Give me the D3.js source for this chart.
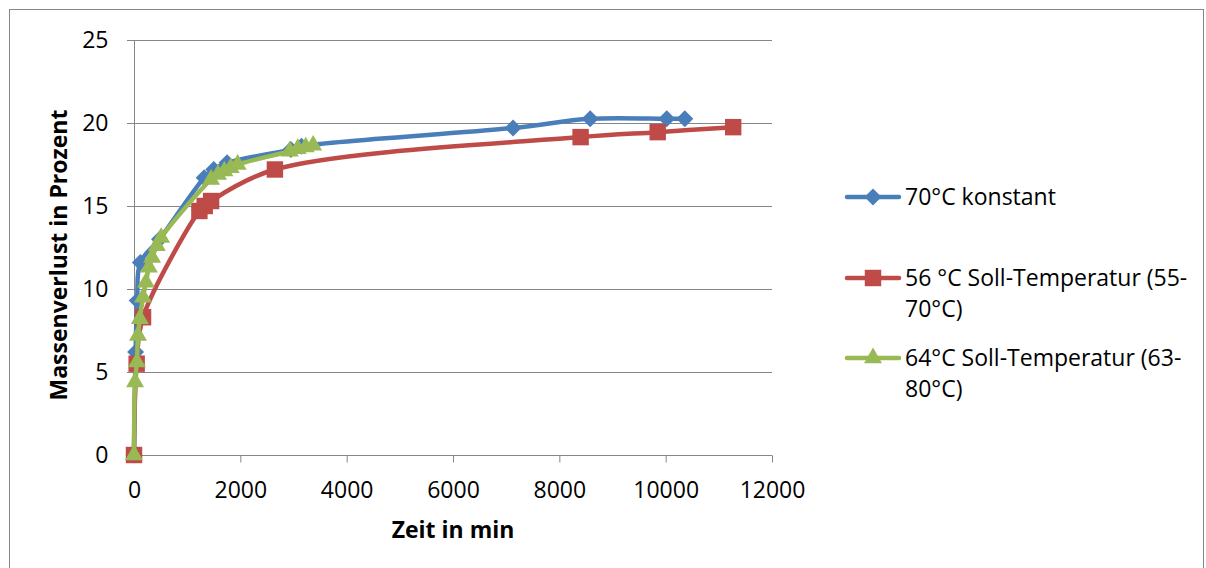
<!DOCTYPE html>
<html><head><meta charset="utf-8">
<script src="https://cdn.jsdelivr.net/npm/d3@7"></script>
<style>body{margin:0;background:#fff}svg{display:block}text{font-family:"Open Sans","Noto Sans",sans-serif}</style>
</head><body>
<svg id="c" width="1206" height="568"></svg>
<script>
const xTicks = [0,2000,4000,6000,8000,10000,12000];
const yTicks = [0,5,10,15,20,25];
const seriesNames = ["70°C konstant", "56 °C Soll-Temperatur (55-70°C)", "64°C Soll-Temperatur (63-80°C)"];
const blueX = [0,30,60,120,480,1320,1500,1750,2950,3150,7130,8580,10020,10360];
const blueY = [0,6.2,9.3,11.6,13.0,16.7,17.2,17.6,18.4,18.6,19.7,20.25,20.25,20.25];
const redX = [0,50,170,1230,1330,1450,2650,8400,9850,11270];
const redY = [0,5.5,8.3,14.7,15.0,15.3,17.2,19.15,19.45,19.75];
const greenX = [0,20,55,75,110,170,225,280,340,430,510,1450,1580,1700,1820,1950,2930,3080,3230,3370];
const greenY = [0,4.4,5.6,7.2,8.2,9.5,10.4,11.3,11.9,12.6,13.1,16.6,16.9,17.1,17.3,17.5,18.3,18.45,18.55,18.65];

const FS = 23;
const svg = d3.select("#c");
svg.append("rect").attr("x",9.5).attr("y",9.5).attr("width",1194).attr("height",580)
  .attr("fill","none").attr("stroke","#868686");

const x = d3.scaleLinear().domain([0,12000]).range([134,772]);
const y = d3.scaleLinear().domain([0,25]).range([455,40]);
const grid = "#868686";

// gridlines
svg.append("g").selectAll("line").data(yTicks).join("line")
  .attr("x1",127).attr("x2",772).attr("y1",d=>Math.round(y(d))+0.5).attr("y2",d=>Math.round(y(d))+0.5)
  .attr("stroke",grid).attr("stroke-width",1);
// y axis
const ya = svg.append("g").attr("transform","translate(134.5,0)")
  .call(d3.axisLeft(y).tickValues(yTicks).tickFormat(d3.format("d")).tickSize(7).tickPadding(19));
ya.select(".domain").attr("stroke",grid).attr("d","M0,40V455");
ya.selectAll(".tick line").attr("stroke",grid);
ya.selectAll(".tick text").attr("font-size",FS).attr("fill","#000").attr("font-family",null);
// x axis
const xa = svg.append("g").attr("transform","translate(0,455.5)")
  .call(d3.axisBottom(x).tickValues(xTicks).tickFormat(d3.format("d")).tickSize(7).tickPadding(19));
xa.select(".domain").attr("stroke",grid).attr("d","M134,0H772");
xa.selectAll(".tick line").attr("stroke",grid);
xa.selectAll(".tick text").attr("font-size",FS).attr("fill","#000").attr("font-family",null);

svg.append("text").attr("x",453).attr("y",538).attr("text-anchor","middle").attr("font-size",FS).attr("font-weight","bold").text("Zeit in min");
svg.append("text").attr("transform","translate(67,255) rotate(-90)").attr("text-anchor","middle").attr("font-size",FS).attr("font-weight","bold").text("Massenverlust in Prozent");

const series = [
  {xs:blueX, ys:blueY, color:"#4a7ebb", sym:d3.symbolSquare, size:144, rot:45},
  {xs:redX, ys:redY, color:"#be4b48", sym:d3.symbolSquare, size:270, rot:0},
  {xs:greenX, ys:greenY, color:"#98b954", sym:d3.symbolTriangle, size:140, rot:0}
];
const line = d3.line().x(d=>x(d[0])).y(d=>y(d[1])).curve(d3.curveCatmullRom.alpha(0.5));
series.forEach(s=>{
  const pts = s.xs.map((v,i)=>[v,s.ys[i]]);
  const g = svg.append("g");
  g.append("path").attr("d",line(pts)).attr("fill","none").attr("stroke",s.color).attr("stroke-width",4.5).attr("stroke-linejoin","round");
  g.selectAll("path.m").data(pts).join("path").attr("class","m")
    .attr("d",d3.symbol().type(s.sym).size(s.size))
    .attr("transform",d=>`translate(${x(d[0])},${y(d[1])}) rotate(${s.rot})`)
    .attr("fill",s.color);
});

// legend
const leg = [
  {lines:["70°C konstant"], y:197},
  {lines:["56 °C Soll-Temperatur (55-","70°C)"], y:278},
  {lines:["64°C Soll-Temperatur (63-","80°C)"], y:358}
];
leg.forEach((l,i)=>{
  const s = series[i];
  const g = svg.append("g");
  g.append("line").attr("x1",847).attr("x2",899).attr("y1",l.y).attr("y2",l.y).attr("stroke",s.color).attr("stroke-width",4.5).attr("stroke-linecap","round");
  g.append("path").attr("d",d3.symbol().type(s.sym).size(s.size)).attr("transform",`translate(873,${l.y}) rotate(${s.rot})`).attr("fill",s.color);
  l.lines.forEach((t,j)=>{
    g.append("text").attr("x",905).attr("y",l.y+8+j*31).attr("font-size",FS).attr("fill","#000").text(t);
  });
});
</script>
</body></html>
